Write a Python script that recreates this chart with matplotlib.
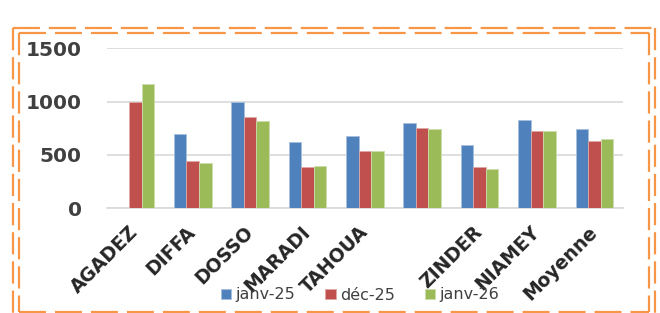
import matplotlib
matplotlib.use('Agg')
import matplotlib.pyplot as plt
from matplotlib.lines import Line2D
from matplotlib.patches import Patch
import numpy as np

# ── Data ───────────────────────────────────────────────────────────────────
regions = ['AGADEZ', 'DIFFA', 'DOSSO', 'MARADI', 'TAHOUA', '', 'ZINDER', 'NIAMEY', 'Moyenne']
janv_25 = [np.nan, 700, 1000, 625, 678, 797, 594, 828, 741]
dec_25 = [1000, 447, 854, 385, 538, 753, 385, 722, 634]
janv_26 = [1163, 428, 816, 397, 538, 741, 366, 722, 647]
series_names = ['janv-25', 'déc-25', 'janv-26']
colors = ['#4F81BD', '#C0504D', '#9BBB59']
edge_colors = ['#A7C0DE', '#DFA8A6', '#CDDDAC']

W, H = 660, 313
plt.rcParams['lines.scale_dashes'] = False

fig = plt.figure(figsize=(W / 100, H / 100), dpi=100)
ax = fig.add_axes([106.7 / W, 1 - 208.3 / H, (623 - 106.7) / W, (208.3 - 48.3) / H])

# ── Bars ───────────────────────────────────────────────────────────────────
x = np.arange(len(regions))
bw = 0.218
for i, (vals, c, ec) in enumerate(zip([janv_25, dec_25, janv_26], colors, edge_colors)):
    ax.bar(x + (i - 1) * bw, vals, width=bw, color=c, edgecolor=ec, linewidth=0.6, zorder=3)

ax.set_xlim(-0.5, len(regions) - 0.5)
ax.set_ylim(0, 1500)
ax.set_yticks([0, 500, 1000, 1500])
ax.yaxis.grid(True, color='#D9D9D9', linewidth=1.2)
ax.set_axisbelow(True)
for s in ['top', 'right', 'left']:
    ax.spines[s].set_visible(False)
ax.spines['bottom'].set_color('#D9D9D9')
ax.spines['bottom'].set_linewidth(1.2)
ax.tick_params(axis='y', length=0, pad=18, labelsize=14.5, labelcolor='#404040')
ax.tick_params(axis='x', length=0, pad=15)
for lab in ax.get_yticklabels():
    lab.set_fontweight('bold')

ax.set_xticks(x)
ax.set_xticklabels(regions, rotation=45, ha='right', va='center', rotation_mode='anchor',
                   fontsize=13.5, fontweight='bold', color='#262626')

# ── Legend ─────────────────────────────────────────────────────────────────
handles = [Patch(facecolor=c, edgecolor=ec, linewidth=0.6) for c, ec in zip(colors, edge_colors)]
fig.legend(handles, series_names, loc='center', bbox_to_anchor=(360 / W, 1 - 295 / H),
           ncol=3, frameon=False, fontsize=11.5, labelcolor='#404040',
           handlelength=0.65, handleheight=0.65, handletextpad=0.25, columnspacing=1.9)

# ── Orange double dashed frame ─────────────────────────────────────────────
orange = '#F79646'


def frame_line(x0, y0, x1, y1, dashes):
    fig.add_artist(Line2D([x0 / W, x1 / W], [1 - y0 / H, 1 - y1 / H], transform=fig.transFigure,
                          color=orange, linewidth=1.6, dashes=dashes, solid_capstyle='butt',
                          dash_capstyle='butt'))


h_dash = (19.4, 6.5)
v_dash = (16, 5)
for (l, t, r, b) in [(13, 28, 655, 318), (18.5, 33, 648.5, 311.5)]:
    frame_line(l, t, r, t, h_dash)
    frame_line(l, b, r, b, h_dash)
    frame_line(l, t, l, b, v_dash)
    frame_line(r, t, r, b, v_dash)

fig.savefig('out.png', dpi=100)
